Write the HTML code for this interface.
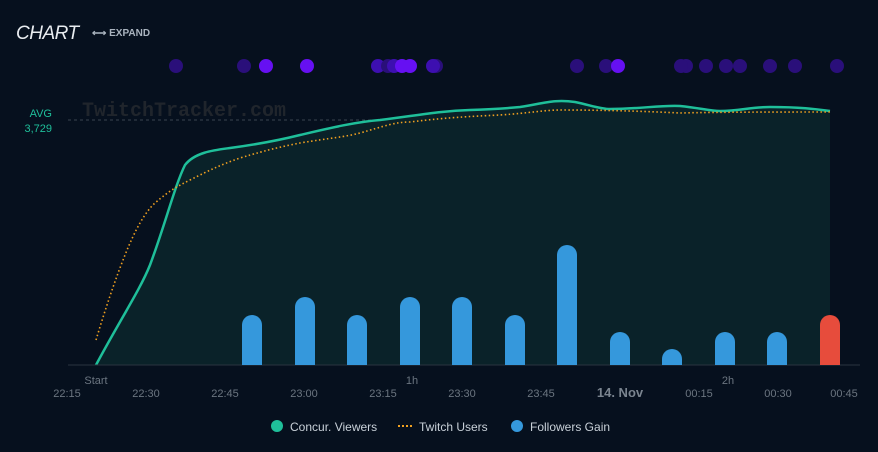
<!DOCTYPE html><html><head><style>body{margin:0;background:#06101e;}svg{display:block;font-family:"Liberation Sans",sans-serif}</style></head><body>
<svg width="878" height="452" viewBox="0 0 878 452">
<rect width="878" height="452" fill="#06101e"/>
<text x="16" y="39" fill="#e8ecf0" font-size="19" font-style="italic" letter-spacing="-0.5">CHART</text>
<text x="92" y="36" fill="#aab4bf" font-size="10" font-weight="bold">⟷ EXPAND</text>
<text x="82" y="116" fill="#20252c" font-size="20" font-weight="bold" font-family="Liberation Mono,monospace">TwitchTracker.com</text>
<text x="52" y="117" fill="#1fbf9a" font-size="11" text-anchor="end">AVG</text>
<text x="52" y="132" fill="#1fbf9a" font-size="11" text-anchor="end">3,729</text>
<line x1="68" y1="120" x2="830" y2="120" stroke="#3a4450" stroke-dasharray="3,3"/>
<path d="M96,365 C120,320 140,290 150,265 C165,225 175,185 185,165 C195,152 215,150 230,148 C260,144 280,140 300,135 C330,128 355,122 380,120 C420,115 440,111 470,110 C500,109 510,108 520,107 C545,103 555,99 575,102 C590,105 600,109 610,109 C640,109 660,105 680,106 C700,108 710,111 720,111 C740,111 750,107 770,107 C800,107 815,109 830,111 L830,365 Z" fill="#0a2229"/>
<path d="M96,365 C120,320 140,290 150,265 C165,225 175,185 185,165 C195,152 215,150 230,148 C260,144 280,140 300,135 C330,128 355,122 380,120 C420,115 440,111 470,110 C500,109 510,108 520,107 C545,103 555,99 575,102 C590,105 600,109 610,109 C640,109 660,105 680,106 C700,108 710,111 720,111 C740,111 750,107 770,107 C800,107 815,109 830,111" fill="none" stroke="#1fbf9a" stroke-width="2.5"/>
<path d="M96,340 C105,310 115,280 125,255 C135,230 145,212 155,203 C170,190 178,186 190,180 C210,170 220,165 240,158 C270,149 285,146 300,143 C330,138 345,137 360,133 C385,126 395,122 410,122 C450,117 480,116 500,115 C530,113 545,110 560,110 C600,110 640,111 680,113 C720,112 780,112 830,112" fill="none" stroke="#f0a020" stroke-width="1.6" stroke-dasharray="1.5,2.5"/>
<line x1="68" y1="365" x2="860" y2="365" stroke="#2a3440"/>
<g fill="#3598dc">
<path d="M242,365V325a10,10 0 0 1 20,0V365Z"/>
<path d="M295,365V307a10,10 0 0 1 20,0V365Z"/>
<path d="M347,365V325a10,10 0 0 1 20,0V365Z"/>
<path d="M400,365V307a10,10 0 0 1 20,0V365Z"/>
<path d="M452,365V307a10,10 0 0 1 20,0V365Z"/>
<path d="M505,365V325a10,10 0 0 1 20,0V365Z"/>
<path d="M557,365V255a10,10 0 0 1 20,0V365Z"/>
<path d="M610,365V342a10,10 0 0 1 20,0V365Z"/>
<path d="M662,365V359a10,10 0 0 1 20,0V365Z"/>
<path d="M715,365V342a10,10 0 0 1 20,0V365Z"/>
<path d="M767,365V342a10,10 0 0 1 20,0V365Z"/>
</g>
<path d="M820,365V325a10,10 0 0 1 20,0V365Z" fill="#e74c3c"/>
<g>
<circle cx="176" cy="66" r="7" fill="#2a0f7a"/><circle cx="244" cy="66" r="7" fill="#2a0f7a"/>
<circle cx="266" cy="66" r="7" fill="#6610f2"/><circle cx="307" cy="66" r="7" fill="#6610f2"/>
<circle cx="378" cy="66" r="7" fill="#3d0fb0"/><circle cx="388" cy="66" r="7" fill="#2a0f7a"/>
<circle cx="394" cy="66" r="7" fill="#3d0fb0"/><circle cx="402" cy="66" r="7" fill="#6610f2"/>
<circle cx="410" cy="66" r="7" fill="#6610f2"/><circle cx="436" cy="66" r="7" fill="#2a0f7a"/>
<circle cx="433" cy="66" r="7" fill="#3d0fb0"/>
<circle cx="577" cy="66" r="7" fill="#2a0f7a"/><circle cx="606" cy="66" r="7" fill="#2a0f7a"/>
<circle cx="618" cy="66" r="7" fill="#6610f2"/><circle cx="686" cy="66" r="7" fill="#2a0f7a"/>
<circle cx="681" cy="66" r="7" fill="#2a0f7a"/><circle cx="706" cy="66" r="7" fill="#2a0f7a"/>
<circle cx="726" cy="66" r="7" fill="#2a0f7a"/><circle cx="740" cy="66" r="7" fill="#2a0f7a"/>
<circle cx="770" cy="66" r="7" fill="#2a0f7a"/><circle cx="795" cy="66" r="7" fill="#2a0f7a"/>
<circle cx="837" cy="66" r="7" fill="#2a0f7a"/>
</g>
<g fill="#6b7580" font-size="11" text-anchor="middle">
<text x="96" y="384">Start</text><text x="412" y="384">1h</text><text x="728" y="384">2h</text>
<text x="67" y="397">22:15</text><text x="146" y="397">22:30</text><text x="225" y="397">22:45</text>
<text x="304" y="397">23:00</text><text x="383" y="397">23:15</text><text x="462" y="397">23:30</text>
<text x="541" y="397">23:45</text><text x="620" y="397" font-size="13" font-weight="bold" fill="#7a848f">14. Nov</text>
<text x="699" y="397">00:15</text><text x="778" y="397">00:30</text><text x="844" y="397">00:45</text>
</g>
<g font-size="12" fill="#c8d0d8">
<circle cx="277" cy="426" r="6" fill="#1fbf9a"/><text x="290" y="431">Concur. Viewers</text>
<line x1="398" y1="426" x2="412" y2="426" stroke="#f0a020" stroke-width="2" stroke-dasharray="2,2"/><text x="419" y="431">Twitch Users</text>
<circle cx="517" cy="426" r="6" fill="#3598dc"/><text x="530" y="431">Followers Gain</text>
</g>
</svg></body></html>
